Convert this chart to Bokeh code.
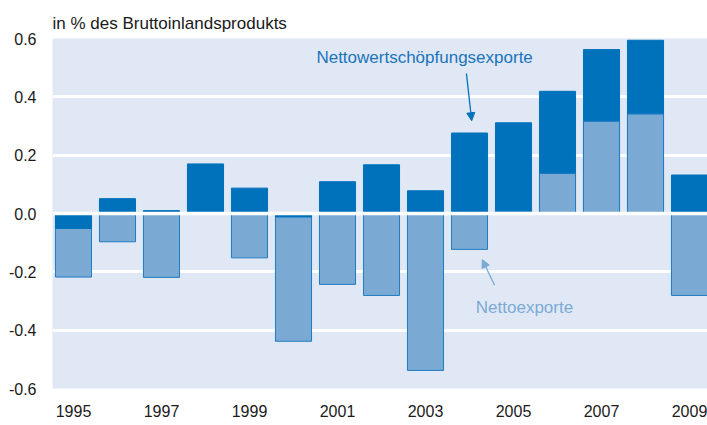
from bokeh.plotting import figure
from bokeh.models import (Range1d, FixedTicker, NumeralTickFormatter, Span, Label,
                          Arrow, NormalHead, ColumnDataSource)
from bokeh.embed import file_html
from bokeh.resources import INLINE

# ---- data -------------------------------------------------------------
years = [1995, 1996, 1997, 1998, 1999, 2000, 2001, 2002, 2003, 2004,
         2005, 2006, 2007, 2008, 2009]
nettowertschoepfungsexporte = [-0.051, 0.051, 0.010, 0.170, 0.087, -0.012, 0.109, 0.167,
                               0.078, 0.276, 0.311, 0.419, 0.562, 0.594, 0.132]
nettoexporte = [-0.218, -0.097, -0.219, 0.0, -0.152, -0.438, -0.243, -0.281,
                -0.538, -0.123, 0.007, 0.137, 0.316, 0.341, -0.281]
y_ticks = [-0.6, -0.4, -0.2, 0.0, 0.2, 0.4, 0.6]
x_tick_years = [1995, 1997, 1999, 2001, 2003, 2005, 2007, 2009]

# ---- style ------------------------------------------------------------
DARK = "#0071bb"
LIGHT = "#7aaad4"
OUTLINE = "#1f7cc1"
BG = "#e1e8f5"
FONT = "Liberation Sans"

p = figure(width=707, height=425, output_backend="svg", toolbar_location=None,
           x_range=Range1d(-0.477, 14.409), y_range=Range1d(-0.6, 0.6),
           min_border_left=52, min_border_right=0, min_border_top=38,
           min_border_bottom=37)
p.background_fill_color = BG
p.border_fill_color = "white"
p.outline_line_color = None

p.title.text = "in % des Bruttoinlandsprodukts"
p.title.text_font = FONT
p.title.text_font_size = "17px"
p.title.text_font_style = "normal"
p.title.text_color = "#1a1a1a"
p.title.align = "left"
p.title.standoff = 12

# ---- bars: larger magnitude behind, smaller in front --------------------
idx = list(range(len(years)))
back = dict(x=[], top=[], fill=[], line=[])
front = dict(x=[], top=[], fill=[], line=[])
for i in idx:
    d = nettowertschoepfungsexporte[i]
    n = nettoexporte[i]
    if abs(d) >= abs(n):
        b, f = (d, DARK, DARK), (n, LIGHT, OUTLINE)
    else:
        b, f = (n, LIGHT, OUTLINE), (d, DARK, DARK)
    for tgt, (v, fc, lc) in ((back, b), (front, f)):
        tgt["x"].append(i)
        tgt["top"].append(v)
        tgt["fill"].append(fc)
        tgt["line"].append(lc)

for src in (back, front):
    p.vbar(x="x", top="top", bottom=0, width=0.82, source=ColumnDataSource(src),
           fill_color="fill", line_color="line", line_width=1)

# zero line drawn over the bars
p.add_layout(Span(location=0, dimension="width", line_color="white", line_width=3.5,
                  level="overlay"))

# ---- axes / grid ------------------------------------------------------
p.xgrid.grid_line_color = None
p.ygrid.grid_line_color = "white"
p.ygrid.grid_line_width = 3
p.ygrid.ticker = FixedTicker(ticks=[-0.4, -0.2, 0.2, 0.4])

p.yaxis.ticker = FixedTicker(ticks=y_ticks)
p.yaxis.formatter = NumeralTickFormatter(format="0.0")
p.xaxis.ticker = FixedTicker(ticks=[years.index(y) for y in x_tick_years])
p.xaxis.major_label_overrides = {years.index(y): str(y) for y in x_tick_years}

for ax in (p.xaxis[0], p.yaxis[0]):
    ax.axis_line_color = None
    ax.major_tick_line_color = None
    ax.minor_tick_line_color = None
    ax.major_tick_out = 0
    ax.major_tick_in = 0
    ax.major_label_text_font = FONT
    ax.major_label_text_font_size = "16px"
    ax.major_label_text_color = "#1a1a1a"
p.yaxis.major_label_standoff = 16
p.xaxis.major_label_standoff = 16

# ---- annotations ------------------------------------------------------
p.add_layout(Label(x=7.98, y=0.535, text="Nettowertschöpfungsexporte",
                   text_font=FONT, text_font_size="17px", text_color="#1a74bb",
                   text_align="center", text_baseline="middle"))
p.add_layout(Arrow(x_start=8.93, y_start=0.48, x_end=9.05, y_end=0.318,
                   line_color=DARK, line_width=1.3,
                   end=NormalHead(size=8, fill_color=DARK, line_color=DARK)))
p.add_layout(Label(x=10.25, y=-0.321, text="Nettoexporte",
                   text_font=FONT, text_font_size="17px", text_color="#7aaad6",
                   text_align="center", text_baseline="middle"))
p.add_layout(Arrow(x_start=9.57, y_start=-0.246, x_end=9.29, y_end=-0.158,
                   line_color=LIGHT, line_width=1.3,
                   end=NormalHead(size=8, fill_color=LIGHT, line_color=LIGHT)))

open("out.html", "w").write(file_html(p, INLINE))
